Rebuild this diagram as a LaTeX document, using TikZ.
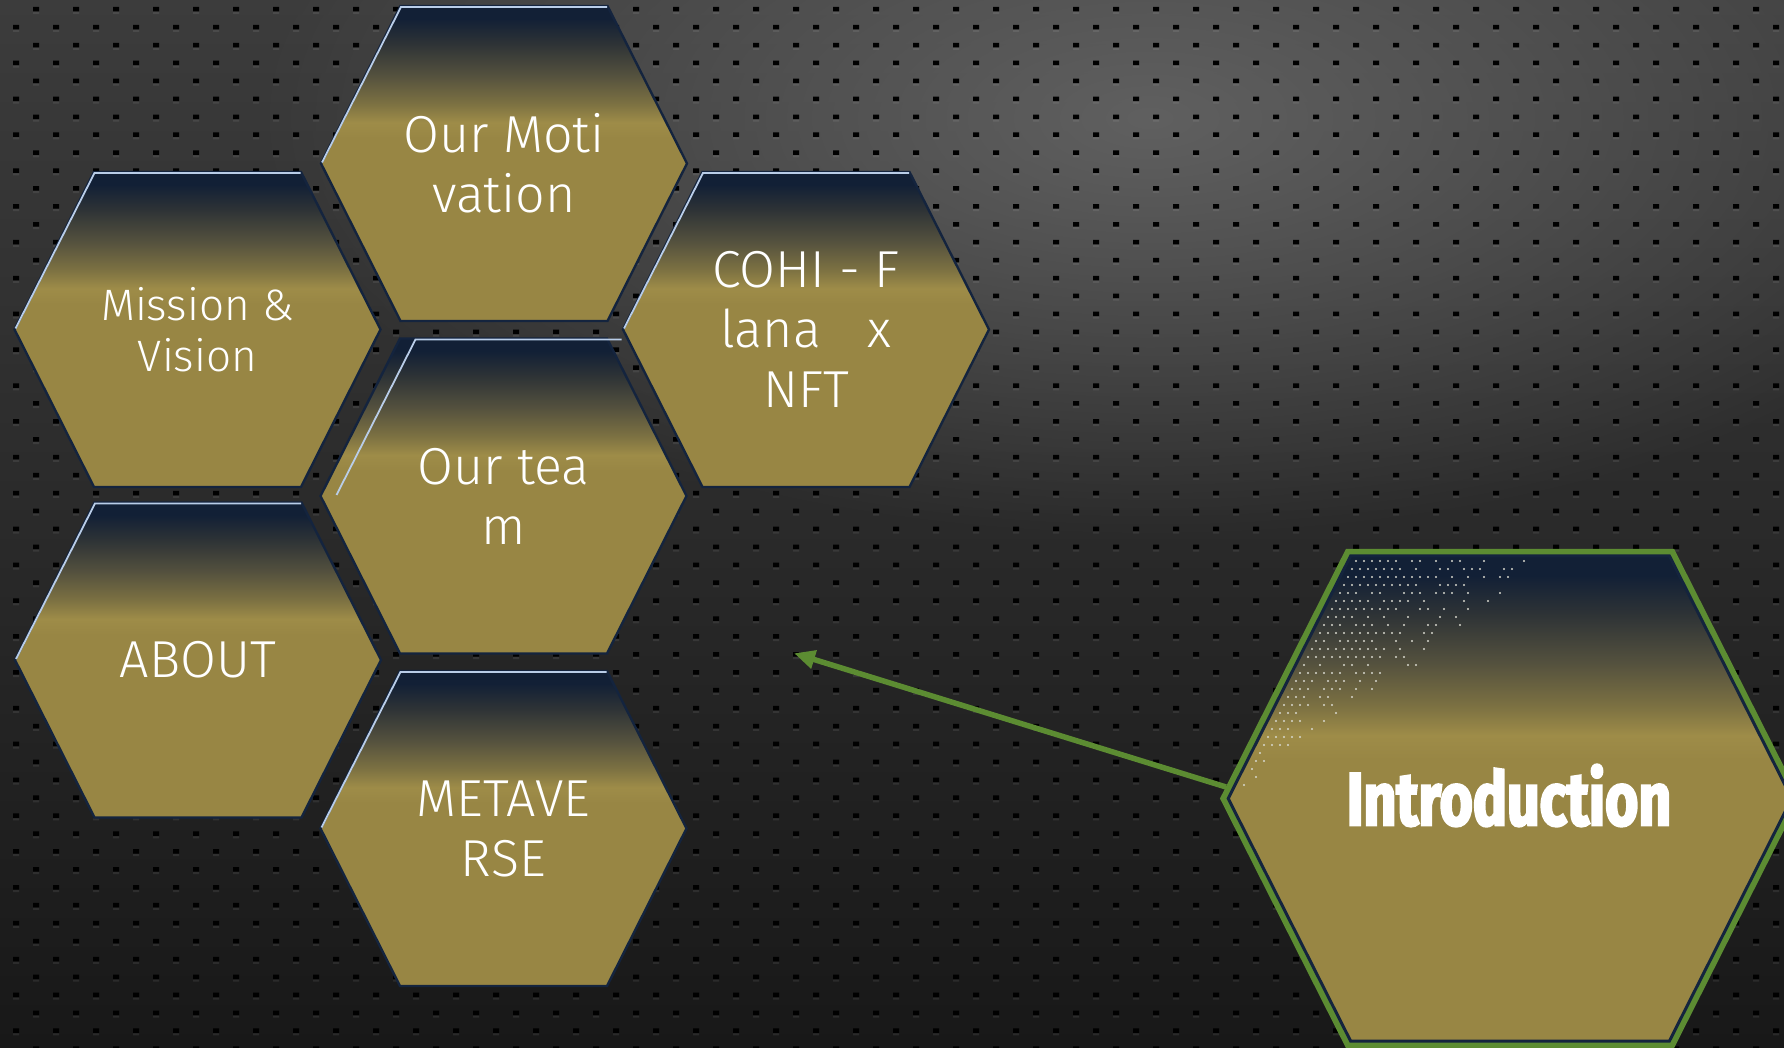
\documentclass[tikz,border=0pt]{standalone}
\usepackage{fontspec}
\usetikzlibrary{arrows.meta,fadings}
\newfontfamily\hexfont{Fira Sans Light}
\newfontfamily\introfont[FakeStretch=0.76,FakeBold=3]{Fira Sans}
\definecolor{bgtop}{RGB}{60,60,60}
\definecolor{bgmid}{RGB}{36,36,36}
\definecolor{bgbot}{RGB}{24,24,24}
\definecolor{glowc}{RGB}{96,96,96}
\definecolor{olive}{RGB}{152,134,68}
\definecolor{olivel}{RGB}{158,140,72}
\definecolor{oliveb}{RGB}{124,113,66}
\definecolor{mid2}{RGB}{84,81,62}
\definecolor{mid1}{RGB}{46,51,54}
\definecolor{navy}{RGB}{18,32,54}
\definecolor{edgec}{RGB}{20,36,62}
\definecolor{hic}{RGB}{185,205,232}
\definecolor{greenc}{RGB}{92,140,50}
\definecolor{dotc}{RGB}{215,215,205}
\tikzfading[name=glowfade, inner color=transparent!0, outer color=transparent!100]
\pgfdeclareverticalshading{hexgrad}{100bp}{color(0bp)=(olive); color(54bp)=(olive); color(56.5bp)=(olivel); color(59.5bp)=(oliveb); color(64bp)=(mid2); color(69bp)=(mid1); color(73bp)=(navy); color(100bp)=(navy)}
\newcommand\hexshape{(-183,0) -- (-103.5,157.5) -- (103.5,157.5) -- (183,0) -- (103.5,-157.5) -- (-103.5,-157.5) -- cycle}
\tikzset{
  hexedge/.style={draw=edgec, line width=2.4pt, line join=miter},
  hexhi/.style={draw=hic, line width=1.8pt},
  hextext/.style={text=white, align=center, inner sep=0pt},
  bigfont/.style={font=\hexfont\fontsize{52}{60}\selectfont},
  smallfont/.style={font=\hexfont\fontsize{44}{51}\selectfont},
  introtext/.style={text=white, inner sep=0pt, font=\introfont\bfseries\fontsize{75}{80}\selectfont},
  linkarrow/.style={draw=greenc, line width=5.5pt, -{Triangle[length=21pt,width=18pt]}}
}
% #1 name, #2 x, #3 y, #4 text, #5 font style, #6 highlight shift
\newcommand\hexcell[6]{%
  \begin{scope}[shift={(#2,#3)}]
    \shade[shading=hexgrad] \hexshape;
    \draw[hexedge] \hexshape;
    \draw[hexhi, xshift=#6] (-182,1) -- (-103,156.5) -- (103,156.5);
  \end{scope}
  \node[hextext, #5] (#1) at (#2,#3) {#4};}
\begin{document}
\begin{tikzpicture}[x=1pt,y=1pt]
\useasboundingbox (0,0) rectangle (1784,1048);
\clip (0,0) rectangle (1784,1048);
% background
\shade[top color=bgtop, middle color=bgmid, bottom color=bgbot] (0,0) rectangle (1784,1048);
\fill[glowc, path fading=glowfade] (1150,930) ellipse (900 and 420);
% perforation holes
\fill[white, opacity=0.08] \foreach \k in {0,...,58} { \foreach \m in {0,...,44} { ({36-20*mod(\k,2)+40*\m-3},{1034-17.92*\k}) rectangle ++(6,2) } };
\fill[black] \foreach \k in {0,...,58} { \foreach \m in {0,...,44} { ({36-20*mod(\k,2)+40*\m-3},{1036.5-17.92*\k}) rectangle ++(6,4.5) } };
% small hexagons
\hexcell{motiv}{504}{884.5}{Our Moti\\vation}{bigfont}{0}
\hexcell{mission}{197.5}{718.5}{Mission \&\\Vision}{smallfont}{0}
\hexcell{cohi}{806}{718.5}{COHI - F\\lana\hspace*{0.9em}x\\NFT}{bigfont}{0}
\hexcell{team}{503.5}{552}{Our tea\\m}{bigfont}{15}
\hexcell{about}{198}{388}{ABOUT}{bigfont}{0}
\hexcell{meta}{503.5}{219.5}{METAVE\\RSE}{bigfont}{0}
% big hexagon
\begin{scope}[shift={(1510,249.5)}]
  \draw[greenc, line width=6.5pt, scale=1.565] \hexshape;
  \shade[shading=hexgrad, scale=1.54] \hexshape;
\end{scope}
\pgfmathsetseed{7}
\foreach \j in {0,...,29}{
  \foreach \i in {0,...,42}{
    \pgfmathsetmacro\px{1228+8*\i+4*mod(\j,2)}
    \pgfmathsetmacro\py{561+8*\j}
    \pgfmathsetmacro\xe{1352-(\py-556)*0.503}
    \pgfmathsetmacro\xb{1565-(\py-556)*1.36}
    \pgfmathsetmacro\tpar{(\px-\xe)/max(\xb-\xe,1)}
    \pgfmathtruncatemacro\dkeep{((\tpar>0) && (\tpar<1) && (rnd<(1-min(\tpar,0.999))^0.7)) ? 1 : 0}
    \ifnum\dkeep=1 \fill[dotc] (\px,{1048-\py}) circle (1.2); \fi
  }
}
\begin{scope}[shift={(1510,249.5)}]
  \draw[edgec, line width=3pt, scale=1.54] \hexshape;
\end{scope}
\node[introtext] (intro) at (1509,252.5) {Introduction};
% connector
\coordinate (introW) at (1226,261);
\coordinate (tip) at (794,394.7);
\draw[linkarrow] (introW) -- (tip);
\end{tikzpicture}
\end{document}
